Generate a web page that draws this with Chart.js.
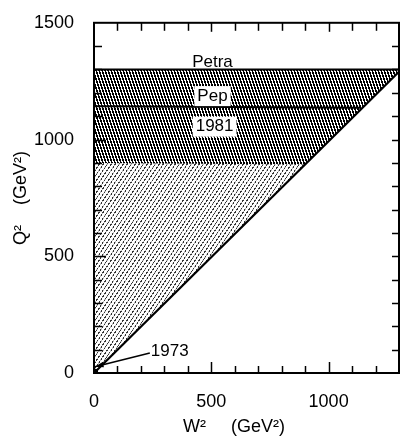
<!DOCTYPE html>
<html><head><meta charset="utf-8">
<script src="https://cdn.jsdelivr.net/npm/chart.js@4.4.1/dist/chart.umd.min.js"></script>
<style>html,body{margin:0;padding:0;background:#fff}canvas{display:block}</style>
</head><body>
<canvas id="c" width="403" height="438"></canvas>
<script>
// ---- data (GeV^2) ----
const xTickValues = [0, 500, 1000];
const yTickValues = [0, 500, 1000, 1500];
const kinematicLimit = [{x: 0, y: 0}, {x: 1300, y: 1290}];
const petraReach = [{x: 0, y: 1300}, {x: 1300, y: 1300}];
const pepReach = [{x: 0, y: 1143}, {x: 1137, y: 1136}];
const reach1981 = [{x: 0, y: 900}, {x: 900, y: 893}];
const labelTexts = ['Petra', 'Pep', '1981', '1973'];
const labelX = [505, 505, 514, 323];
const labelY = [1330, 1186, 1055, 93];
const arrow1973 = [{x: 238, y: 86}, {x: 4, y: 27}];

const FONT = 'Liberation Sans';
const canvas = document.getElementById('c');
const mainCtx = canvas.getContext('2d');

function makePattern(w, h, fn) {
  const c = document.createElement('canvas');
  c.width = w; c.height = h;
  const g = c.getContext('2d');
  const img = g.createImageData(w, h);
  for (let y = 0; y < h; y++) for (let x = 0; x < w; x++) {
    const v = fn(x, y), i = (y * w + x) * 4;
    img.data[i] = img.data[i + 1] = img.data[i + 2] = v; img.data[i + 3] = 255;
  }
  g.putImageData(img, 0, 0);
  return mainCtx.createPattern(c, 'repeat');
}
// dense steep "\\\\" hatch
const upperPat = makePattern(3, 9, (x, y) => {
  const d = (((x + 0.5) - (y + 0.5) / 3) % 3 + 3) % 3;
  return d < 1.4 ? 0 : 255;
});
// light dashed "////" hatch
const lowerPat = makePattern(12, 12, (x, y) => {
  const u = ((3 * (x + 0.5) + 2 * (y + 0.5)) % 12 + 12) % 12;
  if (u >= 4) return 255;
  const t = (((2 * x - 3 * y) % 12) + 12) % 12;
  return t < 7 ? 50 : 190;
});

const decor = {
  id: 'decor',
  afterDatasetsDraw(chart) {
    const {ctx, chartArea: a, scales: {x, y}} = chart;
    ctx.save();
    ctx.strokeStyle = '#000';
    ctx.lineWidth = 2;
    ctx.strokeRect(a.left, a.top, a.right - a.left, a.bottom - a.top);
    ctx.lineWidth = 1.5;
    const seg = (x1, y1, x2, y2) => { ctx.beginPath(); ctx.moveTo(x1, y1); ctx.lineTo(x2, y2); ctx.stroke(); };
    for (let v = 100; v < 1300; v += 100) {
      const px = Math.round(x.getPixelForValue(v)) + 0.5;
      const major = v % 500 === 0;
      seg(px, a.bottom, px, a.bottom - (major ? 11 : 7));
      seg(px, a.top, px, a.top + (major ? 9 : 8));
    }
    for (let v = 100; v < 1500; v += 100) {
      const py = Math.round(y.getPixelForValue(v)) + 0.5;
      const major = v % 500 === 0;
      seg(a.left, py, a.left + (major ? 12 : 8), py);
      seg(a.right, py, a.right - 7, py);
    }
    // labels
    ctx.font = '17px "' + FONT + '"';
    ctx.textAlign = 'center';
    ctx.textBaseline = 'middle';
    labelTexts.forEach((t, i) => {
      const px = x.getPixelForValue(labelX[i]), py = y.getPixelForValue(labelY[i]);
      if (t === 'Pep' || t === '1981') {
        const w = ctx.measureText(t).width;
        ctx.fillStyle = '#fff';
        ctx.fillRect(px - w / 2 - 3, py - 10, w + 6, 20);
      }
      ctx.fillStyle = '#000';
      ctx.fillText(t, px, py);
    });
    // arrow for 1973
    const ax1 = x.getPixelForValue(arrow1973[0].x), ay1 = y.getPixelForValue(arrow1973[0].y);
    const ax2 = x.getPixelForValue(arrow1973[1].x), ay2 = y.getPixelForValue(arrow1973[1].y);
    ctx.lineWidth = 1.5;
    seg(ax1, ay1, ax2, ay2);
    const ang = Math.atan2(ay2 - ay1, ax2 - ax1);
    ctx.beginPath();
    ctx.moveTo(ax2, ay2);
    ctx.lineTo(ax2 - 9 * Math.cos(ang - 0.3), ay2 - 9 * Math.sin(ang - 0.3));
    ctx.lineTo(ax2 - 9 * Math.cos(ang + 0.3), ay2 - 9 * Math.sin(ang + 0.3));
    ctx.closePath();
    ctx.fillStyle = '#000';
    ctx.fill();
    // origin blob
    ctx.fillRect(a.left - 1, a.bottom - 4, 5, 5);
    ctx.restore();
  }
};

const tickFont = {family: FONT, size: 18};
const plain = v => String(v);
new Chart(mainCtx, {
  type: 'line',
  data: {
    datasets: [
      {label: 'kinematic limit', data: kinematicLimit, borderColor: '#000', borderWidth: 2.2, pointRadius: 0, fill: false, order: 0},
      {label: 'Petra', data: petraReach, borderColor: '#000', borderWidth: 2, pointRadius: 0, fill: 0, backgroundColor: upperPat, order: 3},
      {label: 'Pep', data: pepReach, borderColor: '#000', borderWidth: 2, pointRadius: 0, fill: false, order: 1},
      {label: '1981', data: reach1981, borderColor: 'rgba(0,0,0,0)', borderWidth: 1, pointRadius: 0, fill: 0, backgroundColor: lowerPat, order: 2}
    ]
  },
  options: {
    responsive: false,
    animation: false,
    devicePixelRatio: 1,
    layout: {padding: {top: 19, right: 4, left: 0, bottom: 0}},
    plugins: {legend: {display: false}, tooltip: {enabled: false}},
    elements: {line: {tension: 0}},
    scales: {
      x: {
        type: 'linear', min: 0, max: 1300,
        afterBuildTicks: s => { s.ticks = xTickValues.map(v => ({value: v})); },
        afterFit: s => { s.height = 65; },
        grid: {display: false}, border: {display: false},
        ticks: {padding: 10, font: tickFont, color: '#000', maxRotation: 0, autoSkip: false, callback: plain},
        title: {display: true, text: 'W²     (GeV²)     ', font: tickFont, color: '#000', padding: 0}
      },
      y: {
        type: 'linear', min: 0, max: 1500,
        afterBuildTicks: s => { s.ticks = yTickValues.map(v => ({value: v})); },
        afterFit: s => { s.width = 94; },
        grid: {display: false}, border: {display: false},
        ticks: {padding: 12, font: tickFont, color: '#000', autoSkip: false, callback: plain},
        title: {display: true, text: 'Q²    (GeV²)', font: tickFont, color: '#000', padding: {top: 10, bottom: 0}}
      }
    }
  },
  plugins: [decor]
});
</script>
</body></html>
